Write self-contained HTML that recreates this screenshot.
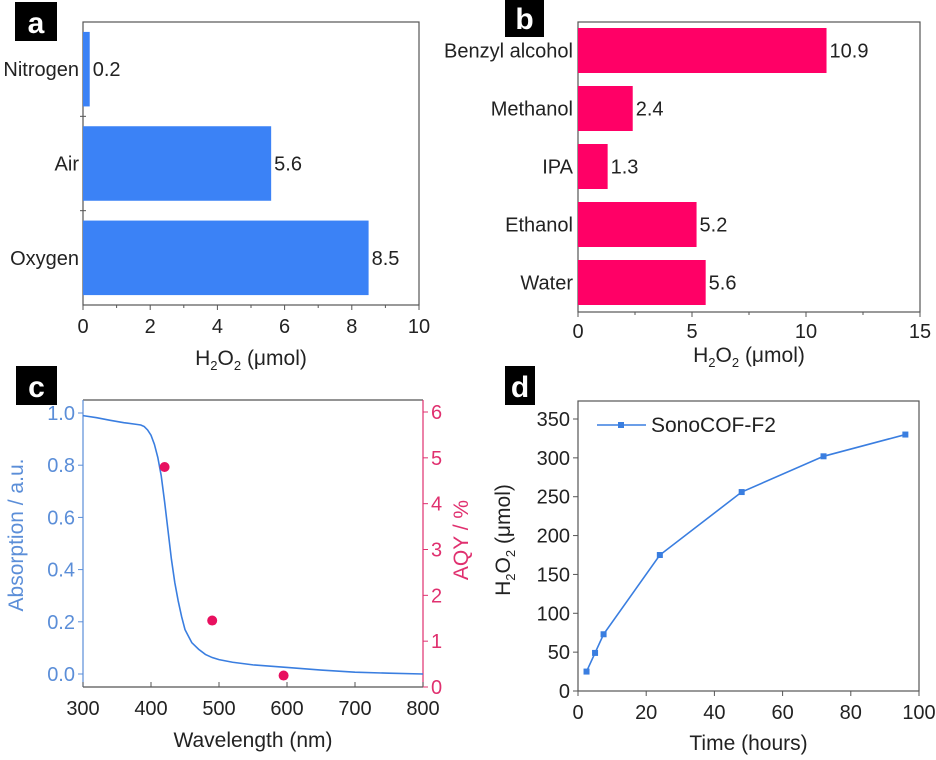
<!DOCTYPE html>
<html><head><meta charset="utf-8"><style>
body{margin:0;background:#fff;width:936px;height:755px;overflow:hidden}
svg{font-family:"Liberation Sans",Arial,sans-serif}
</style></head><body>
<svg id="fig" width="936" height="755" viewBox="0 0 936 755"></svg>
<script>
// Panel a data
const aCats=["Nitrogen","Air","Oxygen"];
const aVals=[0.2,5.6,8.5];
const aTicks=[0,2,4,6,8,10];
// Panel b data
const bCats=["Benzyl alcohol","Methanol","IPA","Ethanol","Water"];
const bVals=[10.9,2.4,1.3,5.2,5.6];
const bTicks=[0,5,10,15];
// Panel c data
const cWave=[300,320,340,360,380,385,390,395,400,405,410,415,420,425,430,435,440,445,450,460,470,480,490,500,520,550,600,650,700,750,800];
const cAbs=[0.99,0.982,0.972,0.963,0.956,0.954,0.948,0.935,0.915,0.88,0.83,0.76,0.66,0.55,0.44,0.35,0.28,0.22,0.17,0.12,0.095,0.075,0.063,0.055,0.045,0.035,0.025,0.015,0.007,0.003,0];
const cAqyX=[420,490,595];
const cAqyY=[4.8,1.45,0.25];
const cXTicks=[300,400,500,600,700,800];
const cLTicks=[0,0.2,0.4,0.6,0.8,1.0];
const cRTicks=[0,1,2,3,4,5,6];
// Panel d data
const dX=[2.5,5,7.5,24,48,72,96];
const dY=[25,49,73,175,256,302,330];
const dXTicks=[0,20,40,60,80,100];
const dYTicks=[0,50,100,150,200,250,300,350];

const FS=20, FT=21;
const svg=document.getElementById('fig');
const NS='http://www.w3.org/2000/svg';
function mk(tag,attrs,parent,txt){const e=document.createElementNS(NS,tag);for(const k in attrs)e.setAttribute(k,attrs[k]);if(txt!==undefined)e.textContent=txt;(parent||svg).appendChild(e);return e;}
function grp(name){const g=mk('g',{});return g;}
function label(name,x,y,w,h,t){const g=grp(name);mk('rect',{x:x,y:y,width:w,height:h,fill:'#000'},g);mk('text',{x:x+w/2,y:y+h-8,'text-anchor':'middle','font-size':30,'font-weight':'bold',fill:'#fff'},g,t);}
const H2='H<tspan font-size="13" dy="5">2</tspan><tspan dy="-5">O</tspan><tspan font-size="13" dy="5">2</tspan><tspan dy="-5"> (μmol)</tspan>';
function h2o2(g,x,y){const t=mk('text',{x:x,y:y,'text-anchor':'middle','font-size':FT,fill:'#222'},g);t.innerHTML=H2;return t;}

// ---------- Panel a ----------
{const L=83,R=419,T=22,B=305;
 const sx=v=>L+(v-0)/(10-0)*(R-L);
 const slot=(B-T)/aCats.length;
 const g=grp('panel-a');
 mk('rect',{x:L,y:T,width:R-L,height:B-T,fill:'none',stroke:'#555','stroke-width':1.2},g);
 aCats.forEach((c,i)=>{const cy=T+slot*(i+0.5);const bh=slot*0.79;
  const r=mk('rect',{x:L,y:cy-bh/2,width:sx(aVals[i])-L,height:bh,fill:'#3b82f6'},g);
  
  
  mk('text',{x:L-4,y:cy+7,'text-anchor':'end','font-size':FS,fill:'#222'},g,c);
  mk('text',{x:sx(aVals[i])+3,y:cy+7,'font-size':FS,fill:'#222'},g,aVals[i].toFixed(1));
  if(i>0)mk('line',{x1:L-3,x2:L+3,y1:T+slot*i,y2:T+slot*i,stroke:'#555'},g);
 });
 aTicks.forEach(v=>{mk('line',{x1:sx(v),x2:sx(v),y1:B,y2:B+5,stroke:'#555'},g);
  mk('text',{x:sx(v),y:B+28,'text-anchor':'middle','font-size':FS,fill:'#222'},g,v);});
 for(let v=1;v<10;v+=2)mk('line',{x1:sx(v),x2:sx(v),y1:B,y2:B+3,stroke:'#555'},g);
 h2o2(g,(L+R)/2,365);
 label('panel-a-label',15,2,42,39,'a');}

// ---------- Panel b ----------
{const L=578,R=920,T=22,B=312;
 const sx=v=>L+v/15*(R-L);
 const g=grp('panel-b');
 mk('rect',{x:L,y:T,width:R-L,height:B-T,fill:'none',stroke:'#555','stroke-width':1.2},g);
 const slot=58,first=50.5;
 bCats.forEach((c,i)=>{const cy=first+slot*i;const bh=45;
  const r=mk('rect',{x:L,y:cy-bh/2,width:sx(bVals[i])-L,height:bh,fill:'#ff0066'},g);
  
  
  mk('text',{x:L-5,y:cy+7,'text-anchor':'end','font-size':FS,fill:'#222'},g,c);
  mk('text',{x:sx(bVals[i])+3,y:cy+7,'font-size':FS,fill:'#222'},g,bVals[i].toFixed(1));
 });
 bTicks.forEach(v=>{mk('line',{x1:sx(v),x2:sx(v),y1:B,y2:B+5,stroke:'#555'},g);
  mk('text',{x:sx(v),y:B+26,'text-anchor':'middle','font-size':FS,fill:'#222'},g,v);});
 for(let v=2.5;v<15;v+=5)mk('line',{x1:sx(v),x2:sx(v),y1:B,y2:B+3,stroke:'#555'},g);
 h2o2(g,(L+R)/2,362);
 label('panel-b-label',505,0,39,37,'b');}

// ---------- Panel c ----------
{const L=83,R=423,T=400,B=687;
 const sx=v=>L+(v-300)/500*(R-L);
 const syL=v=>674-v*(674-413);
 const syR=v=>687-v/6*(687-412);
 const g=grp('panel-c');
 const blue='#3a7ee0',lb='#5b8ed8',pink='#e0306f';
 mk('line',{x1:L,x2:R,y1:T,y2:T,stroke:'#555','stroke-width':1.2},g);
 mk('line',{x1:L,x2:R,y1:B,y2:B,stroke:'#555','stroke-width':1.2},g);
 mk('line',{x1:L,x2:L,y1:T,y2:B,stroke:lb,'stroke-width':1.2},g);
 mk('line',{x1:R,x2:R,y1:T,y2:B,stroke:pink,'stroke-width':1.2},g);
 cXTicks.forEach(v=>{mk('line',{x1:sx(v),x2:sx(v),y1:B,y2:B-5,stroke:'#555'},g);
  mk('text',{x:sx(v),y:B+28,'text-anchor':'middle','font-size':FS,fill:'#222'},g,v);});
 cLTicks.forEach(v=>{mk('line',{x1:L-5,x2:L,y1:syL(v),y2:syL(v),stroke:lb},g);
  mk('text',{x:L-8,y:syL(v)+7,'text-anchor':'end','font-size':FS,fill:lb},g,v.toFixed(1));});
 cRTicks.forEach(v=>{mk('line',{x1:R,x2:R+5,y1:syR(v),y2:syR(v),stroke:pink},g);
  mk('text',{x:R+8,y:syR(v)+7,'font-size':FS,fill:pink},g,v);});
 const p=mk('polyline',{points:cWave.map((w,i)=>sx(w)+','+syL(cAbs[i])).join(' '),fill:'none',stroke:blue,'stroke-width':1.6},g);
 
 
 cAqyX.forEach((w,i)=>{const c=mk('circle',{cx:sx(w),cy:syR(cAqyY[i]),r:5,fill:'#e8105f'},g);
  
  });
 mk('text',{x:(L+R)/2,y:747,'text-anchor':'middle','font-size':FT,fill:'#222'},g,'Wavelength (nm)');
 mk('text',{x:0,y:0,transform:'translate(23,535) rotate(-90)','text-anchor':'middle','font-size':FT,fill:lb},g,'Absorption / a.u.');
 mk('text',{x:0,y:0,transform:'translate(468,540) rotate(-90)','text-anchor':'middle','font-size':FT,fill:pink},g,'AQY / %');
 label('panel-c-label',16,366,41,39,'c');}

// ---------- Panel d ----------
{const L=578,R=919,T=401,B=691;
 const sx=v=>L+v/100*(R-L);
 const sy=v=>B-v/350*(B-419);
 const g=grp('panel-d');
 const blue='#3a7ee0';
 mk('rect',{x:L,y:T,width:R-L,height:B-T,fill:'none',stroke:'#555','stroke-width':1.2},g);
 dXTicks.forEach(v=>{mk('line',{x1:sx(v),x2:sx(v),y1:B,y2:B+5,stroke:'#555'},g);
  mk('text',{x:sx(v),y:B+28,'text-anchor':'middle','font-size':FS,fill:'#222'},g,v);});
 dYTicks.forEach(v=>{mk('line',{x1:L-5,x2:L,y1:sy(v),y2:sy(v),stroke:'#555'},g);
  mk('text',{x:L-8,y:sy(v)+7,'text-anchor':'end','font-size':FS,fill:'#222'},g,v);});
 const p=mk('polyline',{points:dX.map((x,i)=>sx(x)+','+sy(dY[i])).join(' '),fill:'none',stroke:blue,'stroke-width':1.6},g);
 
 
 dX.forEach((x,i)=>{const r=mk('rect',{x:sx(x)-3,y:sy(dY[i])-3,width:6,height:6,fill:blue},g);
  
  });
 const lg=grp('legend-entry');
 mk('line',{x1:597,x2:646,y1:425,y2:425,stroke:blue,'stroke-width':1.6},lg);
 mk('rect',{x:618,y:422,width:6,height:6,fill:blue},lg);
 mk('text',{x:651,y:432,'font-size':FT,fill:'#222'},lg,'SonoCOF-F2');
 mk('text',{x:(L+R)/2,y:750,'text-anchor':'middle','font-size':FT,fill:'#222'},g,'Time (hours)');
 const t=mk('text',{x:0,y:0,transform:'translate(510,540) rotate(-90)','text-anchor':'middle','font-size':FT,fill:'#222'},g);
 t.innerHTML=H2;
 label('panel-d-label',505,366,30,39,'d');}
</script>
</body></html>
